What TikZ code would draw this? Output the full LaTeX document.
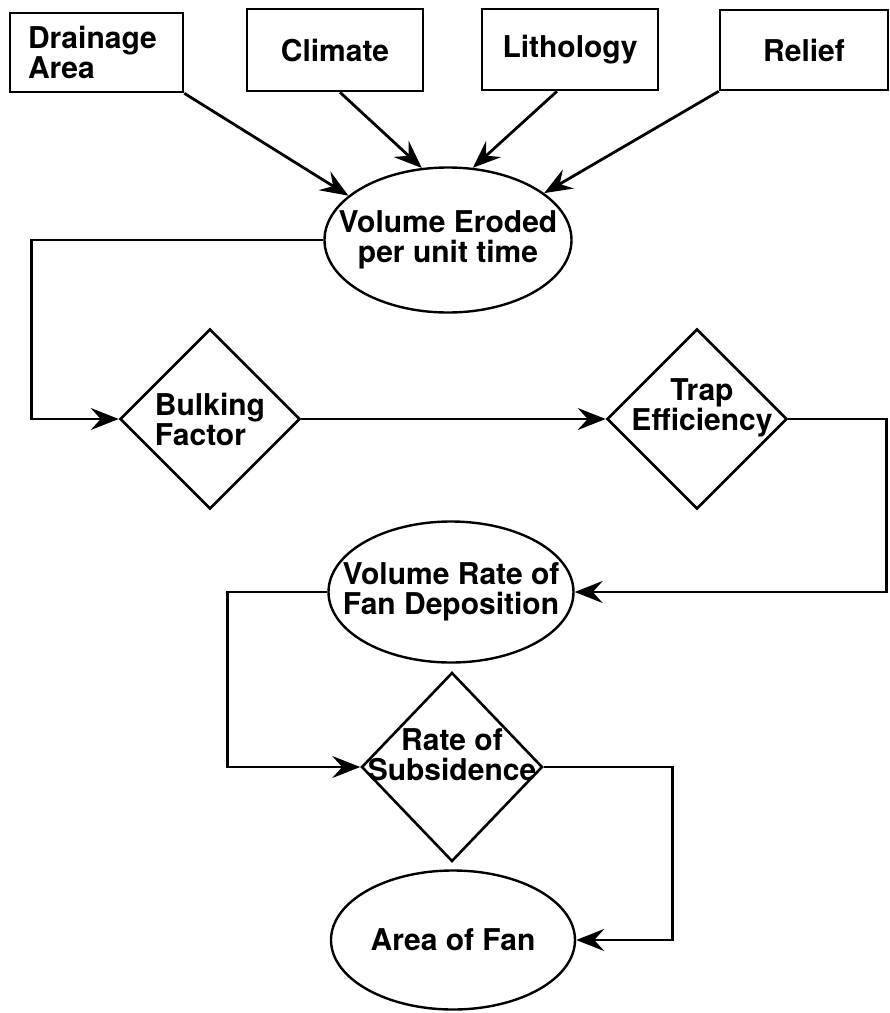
\documentclass[tikz,border=0pt]{standalone}
\usepackage{fontspec}
\setmainfont{TeX Gyre Heros}
\usetikzlibrary{shapes.geometric, arrows.meta}

\tikzset{
    inbox/.style={draw, line width=2.6pt, inner sep=0pt, minimum height=80pt},
    oval/.style={draw, ellipse, line width=2.4pt, inner sep=0pt},
    choice/.style={draw, diamond, line width=2.6pt, inner sep=0pt},
    flow/.style={line width=2.8pt, -{Stealth[length=28pt, width=22pt, inset=10pt]}},
}

\begin{document}
\begin{tikzpicture}[x=1pt, y=-1pt, font=\fontsize{30}{30}\selectfont\bfseries]
    \useasboundingbox (0,0) rectangle (890,1013);

    % The controls on erosion
    \node[inbox, align=left, text width=137pt, inner xsep=18pt, minimum height=79pt] (drain) at (96.5,52.5) {Drainage\\Area};
    \node[inbox, minimum width=176pt, minimum height=82pt] (clim) at (335,50) {Climate};
    \node[inbox, minimum width=176pt, minimum height=81pt] (lith) at (570,49.5) {Lithology};
    \node[inbox, minimum width=168pt] (rel) at (804,50) {Relief};

    % Volume eroded
    \node[oval, minimum width=247pt, minimum height=145pt,
        label={[align=center]center:Volume Eroded\\per unit time}] (vol) at (448,240) {};

    \draw[flow] (drain.south east) -- (vol.156);
    \draw[flow] ([xshift=5pt]clim.south) -- (vol.110);
    \draw[flow] ([xshift=-13pt]lith.south) -- (vol.71);
    \draw[flow] (rel.south west) -- (vol.26);

    % Bulking and trapping
    \node[choice, minimum width=180pt, minimum height=180pt,
        label={[align=left]center:Bulking\\Factor}] (bulk) at (210,419) {};
    \node[choice, minimum width=180pt, minimum height=180pt,
        label={[align=center, xshift=5pt, yshift=11pt]center:Trap\\Efficiency}] (trap) at (697,419) {};

    \draw[flow] (vol.west) -- ++(-292,0) |- (bulk.west);
    \draw[flow] (bulk.east) -- (trap.west);

    % Deposition on the fan
    \node[oval, minimum width=245pt, minimum height=141pt,
        label={[align=center]center:Volume Rate of\\Fan Deposition}] (dep) at (451,592) {};
    \draw[flow] (trap.east) -- ++(98,0) |- (dep.east);

    \node[choice, minimum width=181pt, minimum height=189pt,
        label={[align=center, yshift=12pt]center:Rate of\\Subsidence}] (sub) at (452,767) {};
    \draw[flow] (dep.west) -- ++(-100,0) |- (sub.west);

    \node[oval, minimum width=244pt, minimum height=139pt] (area) at (453,940) {Area of Fan};
    \draw[flow] (sub.east) -- ++(129,0) |- (area.east);
\end{tikzpicture}
\end{document}
